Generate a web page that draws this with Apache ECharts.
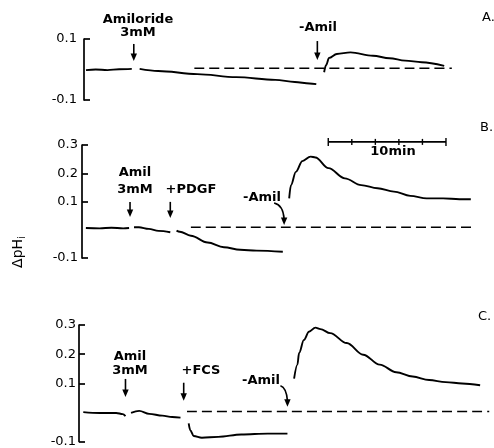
<!DOCTYPE html>
<html><head><meta charset="utf-8">
<script src="https://cdn.jsdelivr.net/npm/echarts@6/dist/echarts.min.js"></script>
<style>html,body{margin:0;padding:0;background:#fff}#c{width:494px;height:448px}</style>
</head><body><div id="c"></div>
<script>
// ---- data (time in min, value in ΔpHi) ----
const yTicksA = [-0.1, 0.1];
const yTicksBC = [-0.1, 0.1, 0.2, 0.3];

const traceA1 = [[0.17,-0.002],[1,0],[2,-0.002],[3,0.001],[4.08,0.002]];
const traceA2 = [[4.75,0.002],[6.33,-0.005],[9.67,-0.015],[13,-0.025],[16.33,-0.034],[18,-0.041],[19.25,-0.046],[19.83,-0.048]];
const traceA3 = [[20.5,-0.009],[20.67,0.015],[20.92,0.038],[21.58,0.051],[22.75,0.056],[24.67,0.045],[26.08,0.037],[27.42,0.029],[28.83,0.024],[30.75,0.012]];
const dashA = [[9.42,0.004],[31.4,0.004]];

const traceB1 = [[0.33,0.006],[1.5,0.005],[2.5,0.007],[3.5,0.005],[4.0,0.006]];
const traceB2 = [[4.42,0.009],[4.83,0.009],[5.67,0.003],[6.5,-0.004],[7.5,-0.009]];
const traceB3 = [[8.03,-0.003],[8.31,-0.007],[9.25,-0.021],[10.67,-0.045],[12.06,-0.062],[13.44,-0.071],[14.83,-0.074],[17.06,-0.078]];
const traceB4 = [[17.6,0.111],[17.75,0.158],[18.17,0.205],[18.72,0.243],[19.42,0.259],[19.83,0.256],[20.94,0.218],[22.33,0.182],[23.72,0.158],[25.11,0.147],[26.5,0.135],[27.89,0.12],[29.28,0.111],[30.67,0.111],[32.06,0.108],[33.03,0.108]];
const dashB = [[9.25,0.009],[33.4,0.009]];

const traceC1 = [[0.36,0.001],[1.75,-0.002],[3.14,-0.002],[3.69,-0.006],[3.92,-0.013]];
const traceC2 = [[4.39,-0.002],[5.08,0.005],[5.92,-0.005],[7.03,-0.011],[7.86,-0.016],[8.56,-0.018]];
const traceC3 = [[9.25,-0.038],[9.39,-0.062],[9.67,-0.081],[10.36,-0.087],[11.75,-0.084],[13.69,-0.076],[15.92,-0.073],[17.58,-0.073]];
const traceC4 = [[18.14,0.116],[18.42,0.164],[18.56,0.204],[18.97,0.249],[19.39,0.277],[19.94,0.291],[20.36,0.286],[21.19,0.272],[22.58,0.238],[23.97,0.198],[25.36,0.164],[26.75,0.138],[28.14,0.123],[29.53,0.111],[30.92,0.104],[32.31,0.099],[33.83,0.093]];
const dashC = [[9.11,0.003],[34.6,0.003]];

// arrows: [time, tip value, shaft length px]
const arrowsA = [[4.25,0.028,17],[19.92,0.031,19]];
const arrowsB = [[4.08,0.045,15],[7.5,0.042,16]];
const arrowsC = [[3.92,0.053,18],[8.83,0.040,18]];
// curved arrows: [time, tip value]
const curvedB = [[17.17,0.017]];
const curvedC = [[17.58,0.019]];
// scale bar (panel B): [start time, value, length min]
const scaleBar = [[20.92,0.311,10]];
const scaleTicks = [0,2,4,6,8,10];

// ---- styles ----
const FONT = 'DejaVu Sans';
const traceStyle = {color:'#000', width:1.9};
function lineSeries(data, gi, dashed){
  return {type:'line', data, xAxisIndex:gi, yAxisIndex:gi, showSymbol:false, smooth:0.35, smoothMonotone:'x',
    lineStyle: dashed ? {color:'#000', width:1.6, type:[10,5]} : traceStyle, animation:false, silent:true};
}
function arrowRender(params, api){
  const p = api.coord([api.value(0), api.value(1)]);
  const len = api.value(2);
  return {type:'group', children:[
    {type:'line', shape:{x1:p[0],y1:p[1]-len,x2:p[0],y2:p[1]-5}, style:{stroke:'#000',lineWidth:1.6}},
    {type:'polygon', shape:{points:[[p[0]-3.2,p[1]-7.5],[p[0]+3.2,p[1]-7.5],[p[0],p[1]]]}, style:{fill:'#000'}}
  ]};
}
function curvedRender(dx, dy){
  return function(params, api){
    const p = api.coord([api.value(0), api.value(1)]);
    return {type:'group', children:[
      {type:'bezierCurve', shape:{x1:p[0]+dx,y1:p[1]+dy,x2:p[0],y2:p[1]-6,cpx1:p[0]-1,cpy1:p[1]+dy+2}, style:{stroke:'#000',lineWidth:1.6,fill:null}},
      {type:'polygon', shape:{points:[[p[0]-3.2,p[1]-7.5],[p[0]+3.2,p[1]-7.5],[p[0],p[1]]]}, style:{fill:'#000'}}
    ]};
  };
}
function scaleRender(params, api){
  const t0 = api.value(0), v = api.value(1), L = api.value(2);
  const a = api.coord([t0, v]), b = api.coord([t0+L, v]);
  const ch = [{type:'line', shape:{x1:a[0],y1:a[1],x2:b[0],y2:b[1]}, style:{stroke:'#000',lineWidth:1.6}}];
  scaleTicks.forEach((k,i)=>{
    const q = api.coord([t0+k, v]);
    const h = (i===0||i===scaleTicks.length-1) ? 4 : 3;
    ch.push({type:'line', shape:{x1:q[0],y1:q[1]-h,x2:q[0],y2:q[1]+h}, style:{stroke:'#000',lineWidth:1.4}});
  });
  return {type:'group', children:ch};
}
function yAxis(gi, min, max, ticks, margin){
  return {gridIndex:gi, type:'value', min, max,
    axisLine:{show:true, lineStyle:{color:'#000', width:1.7}},
    axisTick:{show:true, inside:true, length:6, customValues:ticks, lineStyle:{color:'#000', width:1.7}},
    axisLabel:{customValues:ticks, formatter:v=>v.toFixed(1), color:'#000', fontFamily:FONT, fontSize:13, margin},
    splitLine:{show:false}};
}
function xAxis(gi){ return {gridIndex:gi, type:'value', min:0, max:35, show:false}; }
function txt(x, y, s, opt){
  return Object.assign({type:'text', x, y, silent:true, style:{text:s, fill:'#000', font:'bold 13px "DejaVu Sans"', align:'center', verticalAlign:'middle'}}, opt||{});
}
const letterFont = '13px "DejaVu Sans"';

const chart = echarts.init(document.getElementById('c'), null, {renderer:'canvas'});
chart.setOption({
  animation:false,
  backgroundColor:'#fff',
  grid:[
    {left:84, top:39, width:420, height:61},
    {left:82, top:145, width:420, height:113},
    {left:79, top:325, width:420, height:118}
  ],
  xAxis:[xAxis(0), xAxis(1), xAxis(2)],
  yAxis:[yAxis(0,-0.1,0.1,yTicksA,7), yAxis(1,-0.1,0.3,yTicksBC,4), yAxis(2,-0.1,0.3,yTicksBC,3)],
  series:[
    lineSeries(traceA1,0), lineSeries(traceA2,0), lineSeries(traceA3,0), lineSeries(dashA,0,true),
    lineSeries(traceB1,1), lineSeries(traceB2,1), lineSeries(traceB3,1), lineSeries(traceB4,1), lineSeries(dashB,1,true),
    lineSeries(traceC1,2), lineSeries(traceC2,2), lineSeries(traceC3,2), lineSeries(traceC4,2), lineSeries(dashC,2,true),
    {type:'custom', xAxisIndex:0, yAxisIndex:0, data:arrowsA, renderItem:arrowRender, clip:false, silent:true},
    {type:'custom', xAxisIndex:1, yAxisIndex:1, data:arrowsB, renderItem:arrowRender, clip:false, silent:true},
    {type:'custom', xAxisIndex:2, yAxisIndex:2, data:arrowsC, renderItem:arrowRender, clip:false, silent:true},
    {type:'custom', xAxisIndex:1, yAxisIndex:1, data:curvedB, renderItem:curvedRender(-10,-22), clip:false, silent:true},
    {type:'custom', xAxisIndex:2, yAxisIndex:2, data:curvedC, renderItem:curvedRender(-7,-21), clip:false, silent:true},
    {type:'custom', xAxisIndex:1, yAxisIndex:1, data:scaleBar, renderItem:scaleRender, clip:false, silent:true}
  ],
  graphic:[
    txt(138,20,'Amiloride'), txt(138,33,'3mM'), txt(318,28,'-Amil'),
    {type:'text', x:482, y:18, style:{text:'A.', font:letterFont, fill:'#000', align:'left', verticalAlign:'middle'}},
    txt(135,173,'Amil'), txt(135,190,'3mM'), txt(191,190,'+PDGF'), txt(262,198,'-Amil'), txt(393,152,'10min'),
    {type:'text', x:480, y:128, style:{text:'B.', font:letterFont, fill:'#000', align:'left', verticalAlign:'middle'}},
    txt(130,357,'Amil'), txt(130,371,'3mM'), txt(201,371,'+FCS'), txt(261,381,'-Amil'),
    {type:'text', x:478, y:317, style:{text:'C.', font:letterFont, fill:'#000', align:'left', verticalAlign:'middle'}},
    {type:'text', x:18, y:252, rotation:Math.PI/2, style:{text:'{m|ΔpH}{s|i}', align:'center', verticalAlign:'middle', fill:'#000',
      rich:{m:{fontFamily:FONT, fontSize:14, fill:'#000'}, s:{fontFamily:FONT, fontSize:10, fill:'#000', padding:[8,0,0,0]}}}}
  ]
});
</script></body></html>
